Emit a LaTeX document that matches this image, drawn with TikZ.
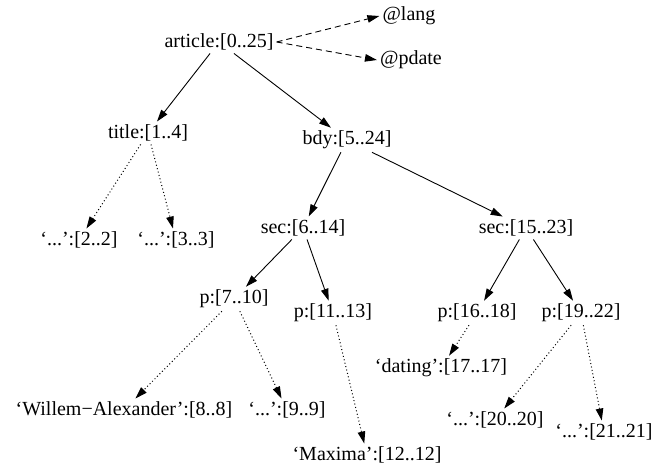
\documentclass[tikz,border=0pt]{standalone}
\usepackage{fontspec}
\setmainfont{Liberation Serif}
\usetikzlibrary{arrows.meta}
\tikzset{
  elem/.style={inner sep=3pt, font=\fontsize{20}{24}\selectfont},
  solidedge/.style={line width=0.9pt, -{Triangle[length=12pt,width=7.5pt]}},
  attredge/.style={line width=0.9pt, dash pattern=on 6pt off 4pt, -{Triangle[length=12pt,width=7.5pt]}},
  textedge/.style={line width=1pt, dash pattern=on 1pt off 2.5pt, -{Triangle[length=12pt,width=7.5pt]}}
}
\begin{document}
\begin{tikzpicture}[x=1pt,y=-1pt]
    \useasboundingbox (0,0) rectangle (672,465);

    % 绘制元素结点
    \node[elem] (article) at (219,42) {article:[0..25]};
    \node[elem] (lang)    at (409,16) {@lang};
    \node[elem] (pdate)   at (411,60) {@pdate};
    \node[elem] (title)   at (148,133) {title:[1..4]};
    \node[elem] (bdy)     at (347,140) {bdy:[5..24]};
    \node[elem] (t2)      at (79,240) {`...':[2..2]};
    \node[elem] (t3)      at (176,240) {`...':[3..3]};
    \node[elem] (sec1)    at (303,228) {sec:[6..14]};
    \node[elem] (sec2)    at (526,228) {sec:[15..23]};
    \node[elem] (p7)      at (234,299) {p:[7..10]};
    \node[elem] (p11)     at (333,313) {p:[11..13]};
    \node[elem] (p16)     at (477,313) {p:[16..18]};
    \node[elem] (p19)     at (581,313) {p:[19..22]};
    \node[elem] (dating)  at (441,368) {`dating':[17..17]};
    \node[elem] (willem)  at (124,410) {`Willem\textminus Alexander':[8..8]};
    \node[elem] (t9)      at (287,410) {`...':[9..9]};
    \node[elem] (maxima)  at (367,455) {`Maxima':[12..12]};
    \node[elem] (t20)     at (495,420) {`...':[20..20]};
    \node[elem] (t21)     at (604,432) {`...':[21..21]};

    % 绘制属性边
    \draw[attredge] (article.east) -- (lang.west);
    \draw[attredge] (article.east) -- (pdate.west);

    % 绘制元素边
    \draw[solidedge] (article) -- (title);
    \draw[solidedge] (article) -- (bdy);
    \draw[solidedge] (bdy) -- (sec1);
    \draw[solidedge] (bdy) -- (sec2);
    \draw[solidedge] (sec1) -- (p7);
    \draw[solidedge] (sec1) -- (p11);
    \draw[solidedge] (sec2) -- (p16);
    \draw[solidedge] (sec2) -- (p19);

    % 绘制文本边
    \draw[textedge] (title) -- (t2);
    \draw[textedge] (title) -- (t3);
    \draw[textedge] (p7) -- (willem);
    \draw[textedge] (p7) -- (t9);
    \draw[textedge] (p11) -- (maxima);
    \draw[textedge] (p16) -- (dating);
    \draw[textedge] (p19) -- (t20);
    \draw[textedge] (p19) -- (t21);
\end{tikzpicture}
\end{document}
